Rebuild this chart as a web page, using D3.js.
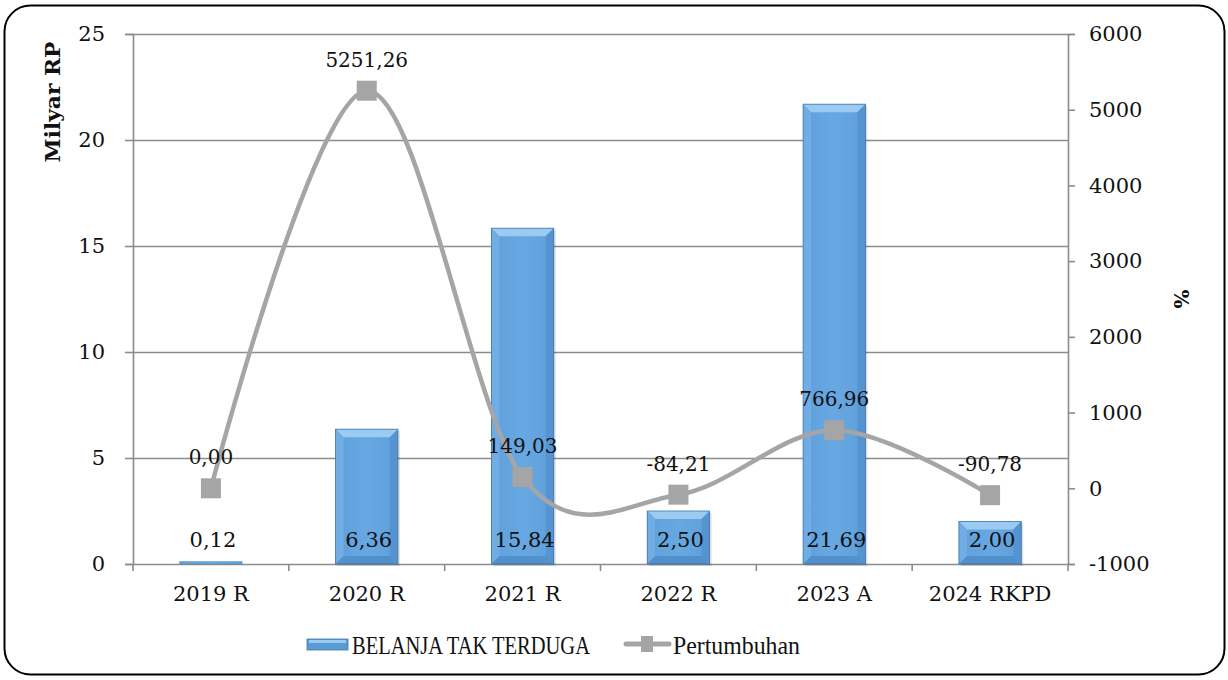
<!DOCTYPE html>
<html>
<head>
<meta charset="utf-8">
<script src="https://cdn.jsdelivr.net/npm/d3@7"></script>
<style>
  html, body { margin: 0; padding: 0; background: #ffffff; }
  svg { display: block; }
  text { font-family: "DejaVu Serif", serif; fill: #111; }
</style>
</head>
<body>
<svg id="chart" width="1228" height="680"></svg>
<script>
// Categories and series
const categories = ["2019 R", "2020 R", "2021 R", "2022 R", "2023 A", "2024 RKPD"];
const belanja = [0.12, 6.36, 15.84, 2.50, 21.69, 2.00];          // Milyar Rp
const pertumbuhan = [0.00, 5251.26, 149.03, -84.21, 766.96, -90.78]; // %
const leftTicks = [0, 5, 10, 15, 20, 25];
const rightTicks = [-1000, 0, 1000, 2000, 3000, 4000, 5000, 6000];
const barLabels = ["0,12", "6,36", "15,84", "2,50", "21,69", "2,00"];
const lineLabels = ["0,00", "5251,26", "149,03", "-84,21", "766,96", "-90,78"];

const svg = d3.select("#chart");
const plot = { left: 133, right: 1068, top: 34, bottom: 564 };
const axisColor = "#8c8c8c";
const plainNumber = d => String(d);

// Outer rounded frame
svg.append("rect")
  .attr("x", 4.5).attr("y", 5.5).attr("width", 1220).attr("height", 669)
  .attr("rx", 26).attr("ry", 26)
  .attr("fill", "#fff").attr("stroke", "#000").attr("stroke-width", 2);

const x = d3.scaleBand().domain(categories).range([plot.left, plot.right]).paddingInner(0).paddingOuter(0);
const yL = d3.scaleLinear().domain([0, 25]).range([plot.bottom, plot.top]);
const yR = d3.scaleLinear().domain([-1000, 6000]).range([plot.bottom, plot.top]);

// Horizontal gridlines from the left axis
svg.append("g").selectAll("line").data(leftTicks.filter(d => d > 0)).join("line")
  .attr("x1", plot.left).attr("x2", plot.right)
  .attr("y1", d => Math.round(yL(d)) + 0.5).attr("y2", d => Math.round(yL(d)) + 0.5)
  .attr("stroke", axisColor).attr("stroke-width", 1.4);

// Left axis
const gL = svg.append("g").attr("transform", `translate(${plot.left},0)`)
  .call(d3.axisLeft(yL).tickValues(leftTicks).tickSize(8).tickPadding(20).tickFormat(plainNumber));
gL.select(".domain").attr("stroke", axisColor).attr("stroke-width", 1.6);
gL.selectAll(".tick line").attr("stroke", axisColor).attr("stroke-width", 1.6);
gL.selectAll(".tick text").style("font-family", "DejaVu Serif").style("font-size", "21px").attr("fill", "#111");

// Right axis
const gR = svg.append("g").attr("transform", `translate(${plot.right},0)`)
  .call(d3.axisRight(yR).tickValues(rightTicks).tickSize(7).tickPadding(14).tickFormat(plainNumber));
gR.select(".domain").attr("stroke", axisColor).attr("stroke-width", 1.6);
gR.selectAll(".tick line").attr("stroke", axisColor).attr("stroke-width", 1.6);
gR.selectAll(".tick text").style("font-family", "DejaVu Serif").style("font-size", "21px").attr("fill", "#111");

// Bottom axis with ticks on category boundaries
const gB = svg.append("g").attr("transform", `translate(0,${plot.bottom})`)
  .call(d3.axisBottom(x).tickSize(0).tickPadding(22));
gB.select(".domain").attr("stroke", axisColor).attr("stroke-width", 1.6);
gB.selectAll(".tick text").style("font-family", "DejaVu Serif").style("font-size", "21px").attr("fill", "#111");
const boundaries = categories.map(c => x(c)).concat([plot.right]);
gB.append("g").selectAll("line").data(boundaries).join("line")
  .attr("x1", d => d).attr("x2", d => d)
  .attr("y1", 0).attr("y2", 7)
  .attr("stroke", axisColor).attr("stroke-width", 1.6);

// Bevelled bars
const barW = x.bandwidth() * 0.4;
const bev = 8;
const defs = svg.append("defs");
const grad = defs.append("linearGradient").attr("id", "barFace").attr("x1", 0).attr("x2", 1).attr("y1", 0).attr("y2", 0);
grad.append("stop").attr("offset", "0%").attr("stop-color", "#609fdb");
grad.append("stop").attr("offset", "50%").attr("stop-color", "#67a8e2");
grad.append("stop").attr("offset", "100%").attr("stop-color", "#5f9eda");

const bars = svg.append("g").selectAll("g").data(categories).join("g");
bars.each(function (c, i) {
  const g = d3.select(this);
  const x0 = x(c) + (x.bandwidth() - barW) / 2, x1 = x0 + barW;
  const yT = yL(belanja[i]), yB = yL(0);
  const h = yB - yT;
  const b = Math.min(bev, h / 2, barW / 2);
  if (h > 4) {
    // soft drop shadow
    g.append("rect").attr("x", x0 + 2).attr("y", yT + 2).attr("width", barW).attr("height", h)
      .attr("fill", "#000").attr("opacity", 0.12);
  }
  g.append("rect").attr("x", x0).attr("y", yT).attr("width", barW).attr("height", Math.max(h, 1))
    .attr("fill", "url(#barFace)");
  if (h > 4) {
    const pt = p => p.map(q => q.join(",")).join(" ");
    g.append("polygon").attr("points", pt([[x0, yT], [x1, yT], [x1 - b, yT + b], [x0 + b, yT + b]])).attr("fill", "#9ccbf2");
    g.append("polygon").attr("points", pt([[x0, yT], [x0 + b, yT + b], [x0 + b, yB - b], [x0, yB]])).attr("fill", "#70ade5");
    g.append("polygon").attr("points", pt([[x1, yT], [x1, yB], [x1 - b, yB - b], [x1 - b, yT + b]])).attr("fill", "#5594d0");
    g.append("polygon").attr("points", pt([[x0, yB], [x0 + b, yB - b], [x1 - b, yB - b], [x1, yB]])).attr("fill", "#5290cc");
  }
  g.append("rect").attr("x", x0).attr("y", yT).attr("width", barW).attr("height", Math.max(h, 1))
    .attr("fill", "none").attr("stroke", "#3f76ab").attr("stroke-width", h > 4 ? 0.8 : 0.3);
});

// Bar value labels near the base
svg.append("g").selectAll("text").data(categories).join("text")
  .attr("x", c => x(c) + x.bandwidth() / 2 + 2)
  .attr("y", yL(0) - 17)
  .attr("text-anchor", "middle")
  .style("font-size", "21px")
  .text((c, i) => barLabels[i]);

// Growth line (smoothed) with square markers
const pts = categories.map((c, i) => [x(c) + x.bandwidth() / 2, yR(pertumbuhan[i])]);
svg.append("path")
  .attr("d", d3.line().curve(d3.curveCatmullRom.alpha(0))(pts))
  .attr("fill", "none").attr("stroke", "#a5a5a5").attr("stroke-width", 4.5);
const ms = 20;
svg.append("g").selectAll("rect").data(pts).join("rect")
  .attr("x", d => d[0] - ms / 2).attr("y", d => d[1] - ms / 2)
  .attr("width", ms).attr("height", ms).attr("fill", "#a5a5a5");
svg.append("g").selectAll("text").data(pts).join("text")
  .attr("x", d => d[0]).attr("y", d => d[1] - 24)
  .attr("text-anchor", "middle").style("font-size", "20px")
  .text((d, i) => lineLabels[i]);

// Axis titles
svg.append("text").attr("transform", "translate(60,102) rotate(-90)")
  .attr("text-anchor", "middle").style("font-size", "21px").style("font-weight", "bold")
  .attr("textLength", 121).attr("lengthAdjust", "spacingAndGlyphs")
  .text("Milyar RP");
svg.append("text").attr("transform", "translate(1174,299) rotate(90)")
  .attr("text-anchor", "middle").style("font-size", "20px").style("font-weight", "bold")
  .text("%");

// Legend
const lg = svg.append("g");
lg.append("rect").attr("x", 307).attr("y", 639).attr("width", 41).attr("height", 11).attr("fill", "#5b9bd5").attr("stroke", "#3f76ab").attr("stroke-width", 0.8);
lg.append("rect").attr("x", 309).attr("y", 640).attr("width", 37).attr("height", 3).attr("fill", "#9ccbf2");
lg.append("text").attr("x", 352).attr("y", 654)
  .style("font-family", "Liberation Serif").style("font-size", "26px")
  .attr("textLength", 238).attr("lengthAdjust", "spacingAndGlyphs")
  .text("BELANJA TAK TERDUGA");
lg.append("line").attr("x1", 626).attr("x2", 669).attr("y1", 644).attr("y2", 644)
  .attr("stroke", "#a5a5a5").attr("stroke-width", 5).attr("stroke-linecap", "round");
lg.append("rect").attr("x", 641).attr("y", 636).attr("width", 12).attr("height", 16).attr("fill", "#a5a5a5");
lg.append("text").attr("x", 673).attr("y", 654)
  .style("font-family", "Liberation Serif").style("font-size", "26px")
  .attr("textLength", 127).attr("lengthAdjust", "spacingAndGlyphs")
  .text("Pertumbuhan");
</script>
</body>
</html>
